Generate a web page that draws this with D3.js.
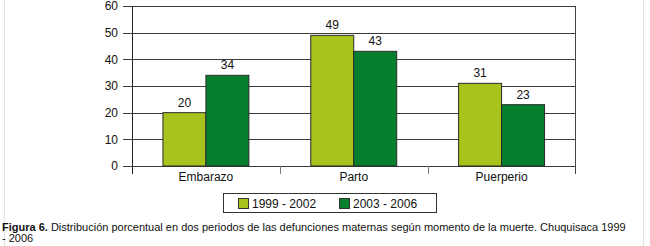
<!DOCTYPE html>
<html>
<head>
<meta charset="utf-8">
<script src="https://cdn.jsdelivr.net/npm/d3@7"></script>
<style>
  body { margin: 0; background: #fff; }
  svg { display: block; font-family: "Liberation Sans", Arial, sans-serif; }
</style>
</head>
<body>
<script>
// Chart data
const categories = ["Embarazo", "Parto", "Puerperio"];
const seriesNames = ["1999 - 2002", "2003 - 2006"];
const values1999 = [20, 49, 31];
const values2003 = [34, 43, 23];
const yTicks = [0, 10, 20, 30, 40, 50, 60];
const colors = ["#a9c21c", "#067f2f"];

const width = 650, height = 246;
const plotLeft = 132, plotRight = 575.5, plotTop = 6, plotBottom = 166;

const svg = d3.select("body").append("svg")
    .attr("width", width)
    .attr("height", height);

// light frame lines of the figure
svg.append("line").attr("x1", 4.5).attr("x2", 4.5).attr("y1", 0).attr("y2", height)
    .attr("stroke", "#e2e2e2");
svg.append("line").attr("x1", 643.5).attr("x2", 643.5).attr("y1", 0).attr("y2", height)
    .attr("stroke", "#e2e2e2");

const y = d3.scaleLinear().domain([0, 60]).range([plotBottom, plotTop]);
const x0 = d3.scaleBand().domain(categories).range([plotLeft, plotRight]).paddingInner(0);
const x1 = d3.scaleBand().domain(seriesNames).range([0, x0.bandwidth()])
    .paddingInner(0).paddingOuter(0.72);

// gridlines (extend left as ticks)
svg.append("g").selectAll("line")
    .data(yTicks)
    .enter().append("line")
    .attr("x1", plotLeft - 9)
    .attr("x2", plotRight)
    .attr("y1", d => Math.round(y(d)) + 0.5)
    .attr("y2", d => Math.round(y(d)) + 0.5)
    .attr("stroke", "#3a3a3a")
    .attr("stroke-width", 1);

// y tick labels
svg.append("g").selectAll("text")
    .data(yTicks)
    .enter().append("text")
    .attr("x", 118)
    .attr("y", d => y(d))
    .attr("dy", "0.35em")
    .attr("text-anchor", "end")
    .attr("font-size", 12)
    .attr("fill", "#111")
    .text(d => d);

// axis line and right border
svg.append("line").attr("x1", plotLeft + 0.5).attr("x2", plotLeft + 0.5)
    .attr("y1", plotTop).attr("y2", plotBottom + 8).attr("stroke", "#222");
svg.append("line").attr("x1", plotRight).attr("x2", plotRight)
    .attr("y1", plotTop).attr("y2", plotBottom + 8).attr("stroke", "#444");

// category boundary ticks
svg.append("g").selectAll("line")
    .data(categories.slice(1))
    .enter().append("line")
    .attr("x1", d => Math.round(x0(d)) + 0.5)
    .attr("x2", d => Math.round(x0(d)) + 0.5)
    .attr("y1", plotBottom)
    .attr("y2", plotBottom + 8)
    .attr("stroke", "#777");

// bars
const rows = categories.map((c, i) => ({ cat: c, vals: [values1999[i], values2003[i]] }));
const groups = svg.append("g").selectAll("g")
    .data(rows)
    .enter().append("g")
    .attr("transform", d => `translate(${x0(d.cat)},0)`);

groups.selectAll("rect")
    .data(d => d.vals.map((v, j) => ({ v, s: seriesNames[j], j })))
    .enter().append("rect")
    .attr("x", d => x1(d.s))
    .attr("y", d => y(d.v))
    .attr("width", x1.bandwidth())
    .attr("height", d => y(0) - y(d.v))
    .attr("fill", d => colors[d.j])
    .attr("stroke", "#2a2a2a")
    .attr("stroke-width", 1);

groups.selectAll("text")
    .data(d => d.vals.map((v, j) => ({ v, s: seriesNames[j], j })))
    .enter().append("text")
    .attr("x", d => x1(d.s) + x1.bandwidth() / 2)
    .attr("y", d => y(d.v) - 6)
    .attr("text-anchor", "middle")
    .attr("font-size", 12)
    .attr("fill", "#111")
    .text(d => d.v);

// category labels
svg.append("g").selectAll("text")
    .data(categories)
    .enter().append("text")
    .attr("x", d => x0(d) + x0.bandwidth() / 2)
    .attr("y", 181)
    .attr("text-anchor", "middle")
    .attr("font-size", 12)
    .attr("fill", "#111")
    .text(d => d);

// legend
const legend = svg.append("g");
legend.append("rect")
    .attr("x", 223.5).attr("y", 193.5)
    .attr("width", 213).attr("height", 19)
    .attr("fill", "#fff").attr("stroke", "#333");
const legX = [238, 339];
seriesNames.forEach((s, i) => {
    legend.append("rect")
        .attr("x", legX[i] + 0.5).attr("y", 198.5)
        .attr("width", 10).attr("height", 10)
        .attr("fill", colors[i]).attr("stroke", "#333");
    legend.append("text")
        .attr("x", legX[i] + 14).attr("y", 208)
        .attr("font-size", 12)
        .attr("fill", "#111")
        .text(s);
});

// caption
const cap = svg.append("text")
    .attr("x", 2).attr("y", 231)
    .attr("font-size", 11)
    .attr("fill", "#111");
cap.append("tspan").attr("font-weight", "bold").text("Figura 6.");
cap.append("tspan").text(" Distribución porcentual en dos periodos de las defunciones maternas según momento de la muerte. Chuquisaca 1999");
svg.append("text")
    .attr("x", 2).attr("y", 242)
    .attr("font-size", 11)
    .attr("fill", "#111")
    .text("- 2006");
</script>
</body>
</html>
